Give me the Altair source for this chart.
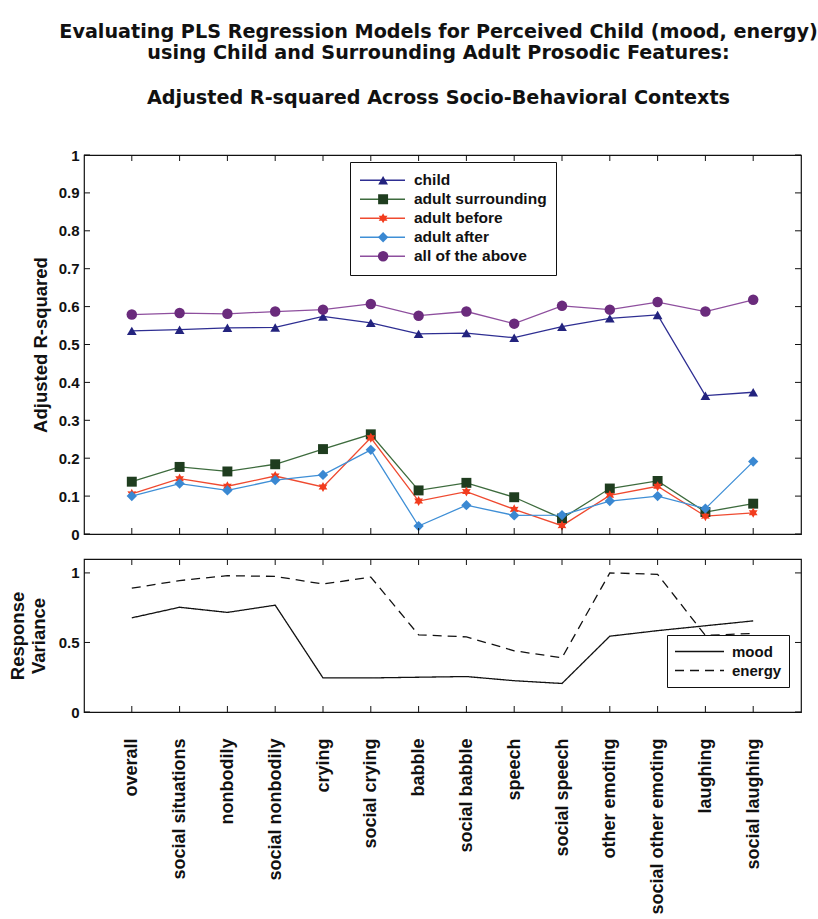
import altair as alt
import pandas as pd

categories = ["overall", "social situations", "nonbodily", "social nonbodily", "crying",
              "social crying", "babble", "social babble", "speech", "social speech",
              "other emoting", "social other emoting", "laughing", "social laughing"]

series_names = ["child", "adult surrounding", "adult before", "adult after", "all of the above"]
child = [0.536, 0.539, 0.544, 0.545, 0.574, 0.557, 0.528, 0.530, 0.518, 0.547, 0.569, 0.578, 0.365, 0.374]
adult_surrounding = [0.138, 0.177, 0.165, 0.184, 0.224, 0.263, 0.115, 0.135, 0.097, 0.041, 0.120, 0.140, 0.058, 0.080]
adult_before = [0.106, 0.146, 0.126, 0.153, 0.124, 0.254, 0.087, 0.112, 0.065, 0.022, 0.102, 0.126, 0.047, 0.056]
adult_after = [0.100, 0.133, 0.115, 0.142, 0.156, 0.222, 0.021, 0.076, 0.049, 0.050, 0.087, 0.100, 0.067, 0.191]
all_above = [0.579, 0.583, 0.581, 0.587, 0.592, 0.607, 0.576, 0.587, 0.555, 0.602, 0.592, 0.612, 0.587, 0.618]

var_names = ["mood", "energy"]
mood = [0.677, 0.753, 0.716, 0.768, 0.245, 0.245, 0.250, 0.255, 0.225, 0.205, 0.545, 0.585, 0.620, 0.655]
energy = [0.890, 0.945, 0.980, 0.975, 0.920, 0.970, 0.555, 0.540, 0.440, 0.390, 1.000, 0.990, 0.550, 0.565]

top_ticks = [0, 0.1, 0.2, 0.3, 0.4, 0.5, 0.6, 0.7, 0.8, 0.9, 1]
bot_ticks = [0, 0.5, 1]

line_colors = ["#2e2e92", "#3d6b3d", "#ef4a30", "#3f8fd6", "#8e4f9e"]
marker_colors = ["#23237e", "#1f3d1f", "#f23c1e", "#3a88d2", "#6a2b7c"]
star = ("M0,-1L0.275,-0.476L0.866,-0.5L0.55,0L0.866,0.5L0.275,0.476L0,1L-0.275,0.476"
        "L-0.866,0.5L-0.55,0L-0.866,-0.5L-0.275,-0.476Z")
marker_shapes = ["triangle-up", "square", star, "diamond", "circle"]
marker_sizes = [95, 110, 200, 70, 100]

FONT = "Liberation Sans"
TFONT = "DejaVu Sans"
TXT = "#111111"
W, H1, H2 = 717, 379, 153
GAP_VIS = 25

marker_keys = [n + " marker" for n in series_names]

rows = []
for name, mk, vals in zip(series_names, marker_keys,
                          [child, adult_surrounding, adult_before, adult_after, all_above]):
    for c, v in zip(categories, vals):
        rows.append({"category": c, "series": name, "marker": mk, "value": v})
df1 = pd.DataFrame(rows)

rows = []
for name, vals in zip(var_names, [mood, energy]):
    for c, v in zip(categories, vals):
        rows.append({"category": c, "variable": name, "value": v})
df2 = pd.DataFrame(rows)

cat_df = pd.DataFrame({"category": categories})
tt_df = pd.DataFrame({"value": top_ticks})
bt_df = pd.DataFrame({"value": bot_ticks})

xscale = alt.Scale(type="point", padding=1, domain=categories)
x_top = alt.X("category:N", sort=categories, scale=xscale, axis=None)
x_bot = alt.X("category:N", sort=categories, scale=xscale,
              axis=alt.Axis(title=None, labelAngle=-90, labelFont=FONT, labelFontSize=18,
                            labelFontWeight="bold", labelColor=TXT, labelPadding=26, labelLimit=400,
                            labelOverlap=False, ticks=False, tickSize=0, domain=False, grid=False))

y1scale = alt.Scale(domain=[0, 1], nice=False, zero=False)
y2scale = alt.Scale(domain=[0, 1.1], nice=False, zero=False)

def yaxis(vals, title, tpad):
    return alt.Axis(values=vals, title=title, format="~g", ticks=False, tickSize=0, domain=False,
                    grid=False, labelOverlap=False, labelFont=FONT, labelFontSize=15,
                    labelFontWeight="bold", labelColor=TXT, labelPadding=5, titleFont=FONT,
                    titleFontSize=18.5, titleFontWeight="bold", titleColor=TXT,
                    titlePadding=tpad, titleLineHeight=21)

y_top = alt.Y("value:Q", scale=y1scale, axis=yaxis(top_ticks, "Adjusted R-squared", 8))
y_bot = alt.Y("value:Q", scale=y2scale, axis=yaxis(bot_ticks, ["Response", "Variance"], 10))

LX, LY, LP = 266, 7, 9
leg_lines = alt.Legend(orient="none", legendX=LX, legendY=LY, title=None, symbolType="stroke",
                       symbolSize=2025, symbolStrokeWidth=1.3, labelFont=FONT, labelFontSize=15.5,
                       labelFontWeight="bold", labelColor=TXT, strokeColor="#111111", padding=LP,
                       clipHeight=18.5, rowPadding=0, labelOffset=8)
leg_marks = alt.Legend(orient="none", legendX=LX + LP + 18.6, legendY=LY + LP, title=None,
                       symbolSize=80, symbolStrokeWidth=0, symbolOpacity=1, labelOpacity=0,
                       labelFontSize=2, padding=0, clipHeight=18.5, rowPadding=0)

lines1 = alt.Chart(df1).mark_line(strokeWidth=1.3).encode(
    x=x_top, y=y_top,
    stroke=alt.Stroke("series:N", scale=alt.Scale(domain=series_names, range=line_colors), legend=leg_lines),
)
pts1 = alt.Chart(df1).mark_point(filled=True, opacity=1, strokeWidth=0).encode(
    x=x_top, y=y_top,
    color=alt.Color("marker:N", scale=alt.Scale(domain=marker_keys, range=marker_colors), legend=leg_marks),
    shape=alt.Shape("marker:N", scale=alt.Scale(domain=marker_keys, range=marker_shapes), legend=leg_marks),
    size=alt.Size("marker:N", scale=alt.Scale(domain=marker_keys, range=marker_sizes), legend=None),
)

def tick_layers(tdf, xenc, yenc, h):
    L = 6
    yl = alt.Chart(tdf).mark_rule(color="#111111", strokeWidth=1).encode(
        y=yenc, x=alt.value(0), x2=alt.value(L))
    yr = alt.Chart(tdf).mark_rule(color="#111111", strokeWidth=1).encode(
        y=yenc, x=alt.value(W - L), x2=alt.value(W))
    xb = alt.Chart(cat_df).mark_rule(color="#111111", strokeWidth=1).encode(
        x=xenc, y=alt.value(h - L), y2=alt.value(h))
    xt = alt.Chart(cat_df).mark_rule(color="#111111", strokeWidth=1).encode(
        x=xenc, y=alt.value(0), y2=alt.value(L))
    return [yl, yr, xb, xt]

top = alt.layer(lines1, pts1, *tick_layers(tt_df, x_top, y_top, H1)).properties(width=W, height=H1)

leg_var = alt.Legend(orient="none", legendX=583, legendY=H1 + GAP_VIS + 76, title=None,
                     symbolType="stroke", symbolSize=2401, symbolStrokeColor="#111111",
                     symbolStrokeWidth=1.3, labelFont=FONT, labelFontSize=15,
                     labelFontWeight="bold", labelColor=TXT, padding=7, clipHeight=19,
                     rowPadding=0, labelOffset=7, strokeColor="#111111", fillColor="white")

lines2 = alt.Chart(df2).mark_line(strokeWidth=1.3, color="#111111").encode(
    x=x_bot, y=y_bot,
    strokeDash=alt.StrokeDash("variable:N", scale=alt.Scale(domain=var_names, range=[[1, 0], [9, 6]]),
                              legend=leg_var),
)

bottom = alt.layer(lines2, *tick_layers(bt_df, x_bot, y_bot, H2)).properties(width=W, height=H2)

chart = alt.vconcat(top, bottom, spacing=GAP_VIS - 11).properties(
    title=alt.TitleParams(
        text=["Evaluating PLS Regression Models for Perceived Child (mood, energy)",
              "using Child and Surrounding Adult Prosodic Features:"],
        subtitle="Adjusted R-squared Across Socio-Behavioral Contexts",
        font=TFONT, fontSize=19.2, fontWeight="bold", color=TXT, lineHeight=21,
        subtitleFont=TFONT, subtitleFontSize=19.2, subtitleFontWeight="bold", subtitleColor=TXT,
        subtitleLineHeight=21, subtitlePadding=26,
        anchor="middle", frame="group", offset=39, dx=-4),
    padding={"left": 7, "top": 23, "right": 0, "bottom": 0},
).configure_view(stroke="#111111", strokeWidth=1.2)

chart.save("out.html", embed_options={"renderer": "svg", "actions": False})
